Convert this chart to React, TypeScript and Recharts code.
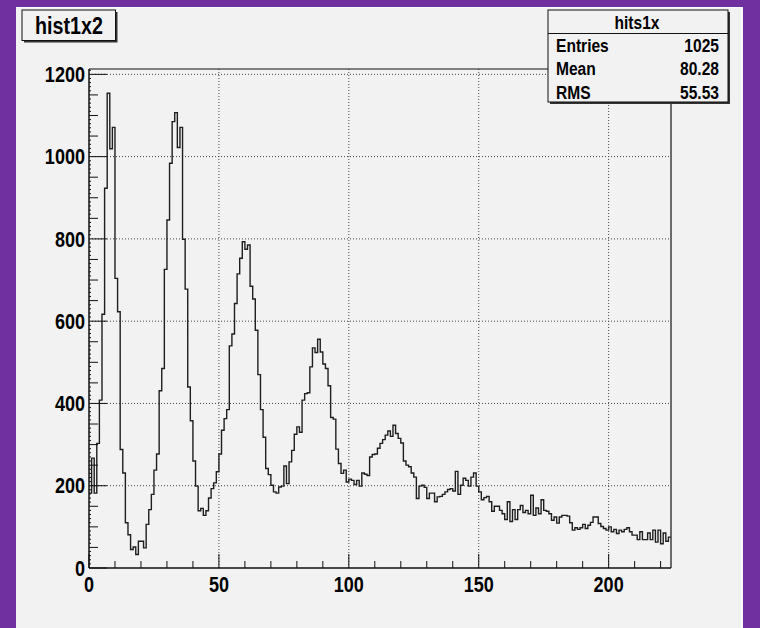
import { Line, LineChart, ReferenceLine, XAxis, YAxis } from "recharts"

const HIST_NAME = "hist1x2"
const STATS_TITLE = "hits1x"
const STATS_LABELS = ["Entries", "Mean", "RMS"]
const STATS_VALUES = ["1025", "80.28", "55.53"]

// bin contents, one bin per unit on x (0..224)
const BIN_CONTENT = [
  182, 267, 182, 303, 408, 617, 923, 1154, 1019, 1071,
  704, 623, 288, 231, 110, 81, 45, 51, 33, 65,
  65, 49, 106, 142, 179, 238, 277, 431, 485, 726,
  846, 984, 1085, 1107, 1022, 1071, 799, 678, 440, 358,
  260, 199, 139, 145, 128, 139, 170, 193, 207, 234,
  277, 335, 363, 385, 540, 569, 643, 715, 753, 793,
  775, 785, 685, 654, 578, 470, 385, 318, 242, 227,
  201, 185, 182, 197, 199, 248, 205, 258, 286, 325,
  343, 330, 408, 424, 426, 489, 535, 524, 556, 525,
  496, 485, 443, 366, 362, 289, 254, 230, 238, 209,
  216, 213, 203, 213, 199, 231, 228, 225, 270, 276,
  277, 291, 303, 312, 323, 333, 320, 347, 327, 315,
  304, 260, 250, 246, 231, 221, 169, 199, 201, 196,
  169, 182, 182, 161, 173, 174, 179, 185, 191, 193,
  187, 235, 179, 201, 218, 213, 199, 221, 231, 199,
  185, 166, 171, 174, 161, 138, 150, 150, 140, 132,
  118, 161, 113, 142, 118, 142, 152, 135, 140, 132,
  177, 128, 146, 132, 166, 140, 138, 132, 116, 124,
  109, 124, 128, 128, 126, 110, 92, 98, 94, 98,
  106, 96, 104, 111, 124, 124, 108, 101, 96, 92,
  100, 88, 94, 84, 92, 88, 94, 98, 88, 80,
  80, 69, 88, 69, 69, 85, 69, 92, 63, 92,
  59, 85, 65, 75,
]

const X_LABELS = [0, 50, 100, 150, 200]
const Y_LABELS = [0, 200, 400, 600, 800, 1000, 1200]
const X_MAX = 224
const Y_MAX = 1213

const PURPLE = "#7030a0"
const PAD = "#f2f2f2"
const INK = "#111"
const FONT = "'Liberation Sans', Arial, Helvetica, sans-serif"

// outline points at the low edge of each bin, closed at the upper edge
const points = BIN_CONTENT.map((v, i) => ({ x: i, y: v })).concat([
  { x: BIN_CONTENT.length, y: BIN_CONTENT[BIN_CONTENT.length - 1] },
])

const xTicks: number[] = []
for (let v = 0; v <= 220; v += 10) xTicks.push(v)
const yTicks: number[] = []
for (let v = 0; v <= 1210; v += 10) yTicks.push(v)

// condensed bold text, squeezed horizontally around its anchor
function Txt({
  x,
  y,
  size,
  anchor = "start",
  children,
}: {
  x: number
  y: number
  size: number
  anchor?: "start" | "middle" | "end"
  children: React.ReactNode
}) {
  return (
    <g transform={`translate(${x},${y}) scale(0.82,1)`}>
      <text
        x={0}
        y={0}
        textAnchor={anchor}
        dominantBaseline="central"
        fontFamily={FONT}
        fontWeight="bold"
        fontSize={size}
        fill="#000"
      >
        {children}
      </text>
    </g>
  )
}

function XTick({ x, y, payload }: any) {
  const v = payload.value
  const major = X_LABELS.includes(v)
  return (
    <g>
      <line x1={x} x2={x} y1={y} y2={y - (major ? 14 : 7)} stroke={INK} strokeWidth={1} />
      {major && (
        <Txt x={x} y={y + 16} size={22} anchor="middle">
          {v}
        </Txt>
      )}
    </g>
  )
}

function YTick({ x, y, payload }: any) {
  const v = payload.value
  const major = Y_LABELS.includes(v)
  const len = major ? 18 : v % 50 === 0 ? 9 : 2
  return (
    <g>
      <line x1={x} x2={x + len} y1={y} y2={y} stroke={INK} strokeWidth={1} />
      {major && (
        <Txt x={x - 4} y={y} size={22} anchor="end">
          {v}
        </Txt>
      )}
    </g>
  )
}

function Overlay() {
  return (
    <svg
      width={760}
      height={628}
      style={{ position: "absolute", left: 0, top: 0, pointerEvents: "none" }}
    >
      {/* histogram title */}
      <rect x={24} y={12} width={93.5} height={30.5} fill="#333" />
      <rect x={22} y={10} width={93.5} height={30.5} fill={PAD} stroke={INK} strokeWidth={1} />
      <Txt x={69} y={26} size={24} anchor="middle">
        {HIST_NAME}
      </Txt>

      {/* stats box */}
      <rect x={550} y={12} width={180} height={92} fill="#333" />
      <rect x={548} y={10} width={180} height={92} fill={PAD} stroke={INK} strokeWidth={1} />
      <line x1={548} x2={728} y1={33.5} y2={33.5} stroke={INK} strokeWidth={1} />
      <Txt x={637} y={22.5} size={19} anchor="middle">
        {STATS_TITLE}
      </Txt>
      {STATS_LABELS.map((label, i) => (
        <g key={label}>
          <Txt x={556} y={45 + i * 23.8} size={19}>
            {label}
          </Txt>
          <Txt x={719} y={45 + i * 23.8} size={19} anchor="end">
            {STATS_VALUES[i]}
          </Txt>
        </g>
      ))}
    </svg>
  )
}

export default function App() {
  return (
    <div
      style={{
        position: "fixed",
        left: 0,
        top: 0,
        width: 760,
        height: 628,
        background: PURPLE,
        overflow: "hidden",
      }}
    >
      <div
        style={{
          position: "absolute",
          left: 16,
          top: 7,
          width: 725,
          height: 621,
          background: PAD,
          borderTop: "1px solid #fbfbfb",
          borderRight: "2px solid #fbfbfb",
        }}
      />
      <div style={{ position: "absolute", left: 0, top: 0 }}>
        <LineChart
          width={760}
          height={628}
          data={points}
          margin={{ top: 69, right: 89, bottom: 30, left: 29 }}
        >
          <XAxis
            dataKey="x"
            type="number"
            domain={[0, X_MAX]}
            ticks={xTicks}
            interval={0}
            allowDataOverflow
            height={30}
            tickSize={0}
            tickMargin={0}
            tickLine={false}
            axisLine={{ stroke: INK, strokeWidth: 1.5 }}
            tick={<XTick />}
          />
          <YAxis
            dataKey="y"
            type="number"
            domain={[0, Y_MAX]}
            ticks={yTicks}
            interval={0}
            allowDataOverflow
            width={60}
            tickSize={0}
            tickMargin={0}
            tickLine={false}
            axisLine={{ stroke: INK, strokeWidth: 1.5 }}
            tick={<YTick />}
          />
          {Y_LABELS.filter((v) => v > 0).map((v) => (
            <ReferenceLine key={`gy${v}`} y={v} stroke="#444" strokeDasharray="1 2" />
          ))}
          {X_LABELS.filter((v) => v > 0).map((v) => (
            <ReferenceLine key={`gx${v}`} x={v} stroke="#444" strokeDasharray="1 2" />
          ))}
          {/* frame: top and right edges */}
          <ReferenceLine y={Y_MAX} stroke={INK} strokeWidth={1.2} />
          <ReferenceLine x={X_MAX} stroke={INK} strokeWidth={1.2} />
          <Line
            type="stepAfter"
            dataKey="y"
            stroke="#1e1e1e"
            strokeWidth={1.4}
            dot={false}
            activeDot={false}
            isAnimationActive={false}
          />
        </LineChart>
      </div>
      <Overlay />
    </div>
  )
}
